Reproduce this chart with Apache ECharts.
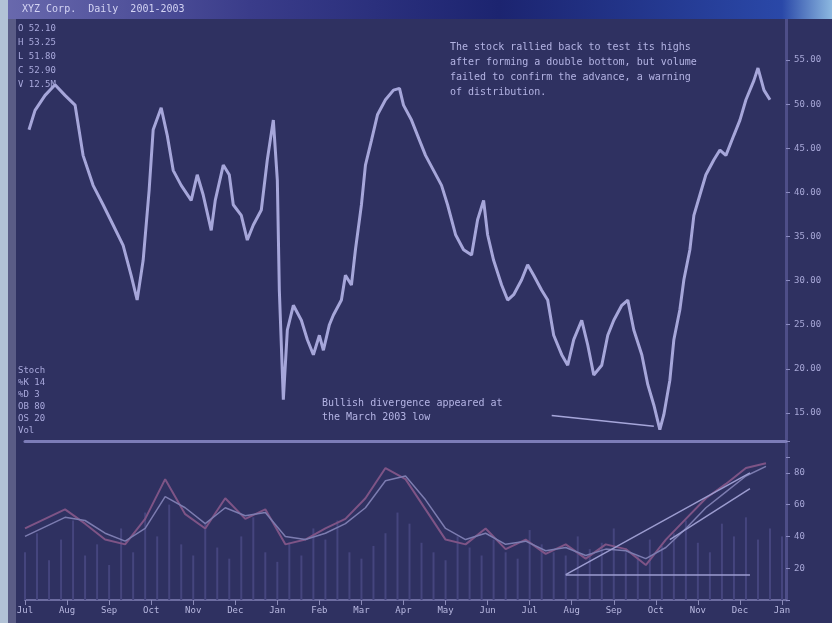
<!DOCTYPE html>
<html><head><meta charset="utf-8">
<script src="https://cdn.jsdelivr.net/npm/echarts@6/dist/echarts.min.js"></script>
<style>html,body{margin:0;padding:0;background:#2f3161;}#c{width:832px;height:623px;}</style>
</head><body><div id="c"></div>
<script>
// price panel: bar number (trading day) and closing price
const barNo = [2,5,10,15,20,25,29,34,39,44,49,53,56,59,62,64,68,71,74,78,83,86,89,93,95,99,102,104,108,111,114,118,121,124,126,127,129,131,134,138,141,144,147,149,152,154,158,160,163,165,168,170,173,176,180,184,187,189,193,197,200,204,208,211,215,219,223,226,229,231,234,238,241,244,248,251,254,258,261,264,268,271,274,278,281,284,288,291,294,298,301,304,308,311,314,317,319,322,324,327,329,332,334,337,340,344,347,350,354,357,360,364,366,369,372];
const close = [47.1,49.3,51.0,52.2,51.0,49.9,44.2,40.8,38.6,36.3,34.0,30.6,27.8,32.3,40.3,47.1,49.6,46.5,42.5,40.8,39.1,42.0,39.7,35.7,39.1,43.1,42.0,38.6,37.4,34.6,36.3,38.0,43.7,48.2,41.4,28.9,16.5,24.4,27.2,25.5,23.3,21.6,23.8,22.1,25.0,26.1,27.8,30.6,29.5,33.5,38.6,43.1,45.9,48.8,50.5,51.6,51.8,49.9,48.2,45.9,44.2,42.5,40.8,38.6,35.2,33.5,32.9,36.9,39.1,35.2,32.3,29.5,27.8,28.4,30.1,31.8,30.6,28.9,27.8,23.8,21.6,20.4,23.3,25.5,22.7,19.3,20.4,23.8,25.5,27.2,27.8,24.4,21.6,18.2,15.9,13.1,14.8,18.7,23.3,26.7,30.1,33.5,37.4,39.7,42.0,43.7,44.8,44.2,46.5,48.2,50.5,52.7,54.1,51.6,50.5];
// indicator panel
const oscBar = [0,10,20,30,40,50,60,70,80,90,100,110,120,130,140,150,160,170,180,190,200,210,220,230,240,250,260,270,280,290,300,310,320,330,340,350,360,370];
const osc = [45,51,57,48,38,35,51,76,54,45,64,51,57,35,38,45,51,64,83,76,57,38,35,45,32,38,29,35,26,35,32,22,38,51,64,73,83,86];
const sig = [40,46,52,50,42,37,45,65,58,48,58,53,55,40,38,42,48,58,75,78,63,45,38,42,35,37,31,33,28,32,31,26,33,45,58,68,78,84];
const volume = [30,42,25,38,50,28,35,22,45,30,55,40,60,35,28,48,33,26,40,52,30,24,36,28,45,38,50,30,26,34,42,55,48,36,30,25,40,33,28,38,30,26,44,35,30,28,40,32,36,45,30,28,38,34,42,50,36,30,48,40,52,38,45,40];
const monthLabels = ['Jul','Aug','Sep','Oct','Nov','Dec','Jan','Feb','Mar','Apr','May','Jun','Jul','Aug','Sep','Oct','Nov','Dec','Jan'];
const legendTop = ['O 52.10','H 53.25','L 51.80','C 52.90','V 12.5M'];
const legendLow = ['Stoch','%K 14','%D 3','OB 80','OS 20','Vol'];
const noteTop = ['The stock rallied back to test its highs','after forming a double bottom, but volume','failed to confirm the advance, a warning','of distribution.'];
const noteLow = ['Bullish divergence appeared at','the March 2003 low'];
const lastOscLabel = 54;

const chart = echarts.init(document.getElementById('c'));
const txt = '#a9a9dc';
const font = 'DejaVu Sans Mono';
const graphics = [
  {type:'rect', shape:{x:0,y:0,width:832,height:19}, z:10,
   style:{fill:new echarts.graphic.LinearGradient(0,0,1,0,[{offset:0,color:'#6a6aae'},{offset:0.3,color:'#3a3c8a'},{offset:0.6,color:'#1c2470'},{offset:0.94,color:'#2a48a8'},{offset:1,color:'#8cb8e0'}])}},
  {type:'text', left:22, top:4, z:11, style:{text:'XYZ Corp.  Daily  2001-2003', fill:'#d4d4f4', font:'10px '+font}},
  {type:'rect', shape:{x:0,y:0,width:8,height:623}, z:10, style:{fill:'#b2c2d6'}},
  {type:'rect', shape:{x:8,y:19,width:8,height:604}, z:9, style:{fill:'#5a5c86'}},
];
legendTop.forEach((t,i)=>graphics.push({type:'text', left:18, top:24+i*14, z:11, style:{text:t, fill:txt, font:'9px '+font}}));
legendLow.forEach((t,i)=>graphics.push({type:'text', left:18, top:366+i*12, z:11, style:{text:t, fill:txt, font:'9px '+font}}));
noteTop.forEach((t,i)=>graphics.push({type:'text', left:450, top:42+i*15, z:11, style:{text:t, fill:'#b4b4e4', font:'10px '+font}}));
noteLow.forEach((t,i)=>graphics.push({type:'text', left:322, top:398+i*14, z:11, style:{text:t, fill:'#b4b4e4', font:'10px '+font}}));

chart.setOption({
  backgroundColor:'#2f3161',
  animation:false,
  graphic:graphics,
  grid:[
    {left:25, right:46, top:16, height:441},
    {left:25, right:46, top:441, height:159}
  ],
  xAxis:[
    {gridIndex:0, type:'value', min:0, max:380, show:false},
    {gridIndex:1, type:'value', min:0, max:380, interval:21, position:'top',
     axisLine:{show:true, onZero:false, lineStyle:{color:'#7c7cb8', width:3}}, axisTick:{show:false}, splitLine:{show:false},
     axisLabel:{show:false}},
    {gridIndex:1, type:'value', min:0, max:380, interval:21, position:'bottom',
     axisLine:{show:true, onZero:false, lineStyle:{color:'#6c6ca0', width:2}}, axisTick:{show:true, lineStyle:{color:'#8a8ab8'}}, splitLine:{show:false},
     axisLabel:{color:'#b8b8e0', fontSize:9, fontFamily:font, margin:6, formatter:v=>monthLabels[Math.round(v/21)]||''}}
  ],
  yAxis:[
    {gridIndex:0, type:'value', position:'right', min:10, max:60, interval:5,
     axisLine:{show:true, onZero:false, lineStyle:{color:'#4e4e88', width:3}}, axisTick:{show:true, length:4, lineStyle:{color:'#8a8ac0'}},
     splitLine:{show:false},
     axisLabel:{color:'#a8a8d8', fontSize:9, fontFamily:font, margin:8, formatter:v=>(v<=10||v>=60)?'':v.toFixed(2)}},
    {gridIndex:1, type:'value', position:'right', min:0, max:100, interval:20,
     axisLine:{show:true, onZero:false, lineStyle:{color:'#4e4e88', width:3}}, axisTick:{show:true, length:4, lineStyle:{color:'#8a8ac0'}},
     splitLine:{show:false},
     axisLabel:{color:'#a8a8d8', fontSize:9, fontFamily:font, margin:8, formatter:v=>(v<=0||v>=100)?'':String(v)}}
  ],
  series:[
    {type:'line', xAxisIndex:0, yAxisIndex:0, symbol:'none',
     data:barNo.map((b,i)=>[b,close[i]]),
     lineStyle:{color:'#a6a6da', width:3},
     markLine:{silent:true, symbol:'none', lineStyle:{color:'#a6a6da', width:1.5, type:'solid'}, label:{show:false},
       data:[[{coord:[263,14.7]},{coord:[314,13.5]}]]}},
    {type:'bar', xAxisIndex:2, yAxisIndex:1, barWidth:2,
     data:volume.map((v,i)=>[i*6,v]), itemStyle:{color:'#45457e'}},
    {type:'line', xAxisIndex:2, yAxisIndex:1, symbol:'none',
     data:oscBar.map((b,i)=>[b,osc[i]]), lineStyle:{color:'#7e5486', width:2},
     markLine:{silent:true, symbol:'none', lineStyle:{opacity:0},
       label:{show:true, position:'end', formatter:String(lastOscLabel.toFixed(1)), color:'#f4d8ca', backgroundColor:'#70464e', padding:[2,4], fontSize:9, fontFamily:font},
       data:[{yAxis:lastOscLabel}]}},
    {type:'line', xAxisIndex:2, yAxisIndex:1, symbol:'none',
     data:oscBar.map((b,i)=>[b,sig[i]]), lineStyle:{color:'#7c7cb0', width:1.5},
     markLine:{silent:true, symbol:'none', lineStyle:{color:'#9c9cd0', width:1.5, type:'solid'}, label:{show:false},
       data:[[{coord:[270,16]},{coord:[362,16]}],[{coord:[270,16]},{coord:[362,80]}],[{coord:[322,38]},{coord:[362,70]}]]}}
  ]
});
</script></body></html>
